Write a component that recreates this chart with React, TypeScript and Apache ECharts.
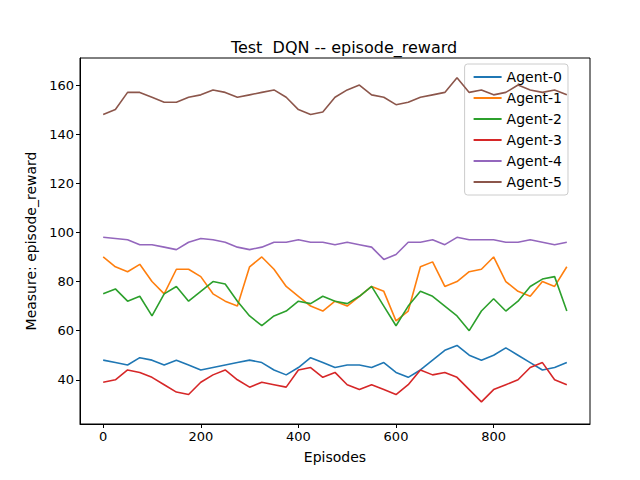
import React, { useEffect, useRef } from "react";
import * as echarts from "echarts";

const episodes = [0,25,50,75,100,125,150,175,200,225,250,275,300,325,350,375,400,425,450,475,500,525,550,575,600,625,650,675,700,725,750,775,800,825,850,875,900,925,950];
const agent0 = [48,47,46,49,48,46,48,46,44,45,46,47,48,47,44,42,45,49,47,45,46,46,45,47,43,41,44,48,52,54,50,48,50,53,50,47,44,45,47];
const agent1 = [90,86,84,87,80,75,85,85,82,75,72,70,86,90,85,78,74,70,68,72,70,74,78,76,64,68,86,88,78,80,84,85,90,80,76,74,80,78,86];
const agent2 = [75,77,72,74,66,75,78,72,76,80,79,72,66,62,66,68,72,71,74,72,71,74,78,70,62,70,76,74,70,66,60,68,73,68,72,78,81,82,68];
const agent3 = [39,40,44,43,41,38,35,34,39,42,44,40,37,39,38,37,44,45,41,43,38,36,38,36,34,38,44,42,43,41,36,31,36,38,40,45,47,40,38];
const agent4 = [98,97.5,97,95,95,94,93,96,97.5,97,96,94,93,94,96,96,97,96,96,95,96,95,94,89,91,96,96,97,95,98,97,97,97,96,96,97,96,95,96];
const agent5 = [148,150,157,157,155,153,153,155,156,158,157,155,156,157,158,155,150,148,149,155,158,160,156,155,152,153,155,156,157,163,157,158,156,157,160,158,157,158,156];
const xTicks = [0, 200, 400, 600, 800];
const yTicks = [40, 60, 80, 100, 120, 140, 160];
const names = ["Agent-0","Agent-1","Agent-2","Agent-3","Agent-4","Agent-5"];
const colors = ["#1f77b4","#ff7f0e","#2ca02c","#d62728","#9467bd","#8c564b"];

export default function App() {
  const ref = useRef<HTMLDivElement>(null);
  useEffect(() => {
    const chart = echarts.init(ref.current!, null, { renderer: "svg" });
    const all = [agent0, agent1, agent2, agent3, agent4, agent5];
    const font = "DejaVu Sans";
    chart.setOption({
      animation: false,
      color: colors,
      title: { text: "Test  DQN -- episode_reward", left: 331, top: 26, textAlign: "center",
        textStyle: { fontFamily: font, fontSize: 16, fontWeight: "normal", color: "#000" } },
      grid: { left: 72, right: 42, top: 50, bottom: 48, show: true, borderColor: "#000", borderWidth: 1 },
      legend: {
        orient: "vertical", right: 64, top: 56, data: names,
        backgroundColor: "rgba(255,255,255,0.8)", borderColor: "#ccc", borderWidth: 1, borderRadius: 3,
        padding: [6, 6, 6, 8], itemGap: 7, itemWidth: 28, itemHeight: 2,
        textStyle: { fontFamily: font, fontSize: 14, color: "#000" }
      },
      xAxis: {
        type: "value", min: -47.5, max: 997.5,
        name: "Episodes", nameLocation: "middle", nameGap: 26,
        nameTextStyle: { fontFamily: font, fontSize: 14, color: "#000" },
        axisLine: { show: true, onZero: false, lineStyle: { color: "#000" } },
        axisTick: { show: true, length: 4, customValues: xTicks, lineStyle: { color: "#000" } },
        axisLabel: { fontFamily: font, fontSize: 13, color: "#000", customValues: xTicks, margin: 6 },
        splitLine: { show: false }
      },
      yAxis: {
        type: "value", min: 22, max: 171,
        name: "Measure: episode_reward", nameLocation: "middle", nameGap: 42,
        nameTextStyle: { fontFamily: font, fontSize: 14, color: "#000" },
        axisLine: { show: true, onZero: false, lineStyle: { color: "#000" } },
        axisTick: { show: true, length: 4, customValues: yTicks, lineStyle: { color: "#000" } },
        axisLabel: { fontFamily: font, fontSize: 13, color: "#000", customValues: yTicks, margin: 6 },
        splitLine: { show: false }
      },
      series: all.map((d, i) => ({
        name: names[i], type: "line", symbol: "none", z: 2 + i,
        lineStyle: { width: 1.6, color: colors[i] },
        data: episodes.map((e, j) => [e, d[j]])
      }))
    });
    return () => chart.dispose();
  }, []);
  return <div ref={ref} style={{ width: 624, height: 464 }} />;
}
